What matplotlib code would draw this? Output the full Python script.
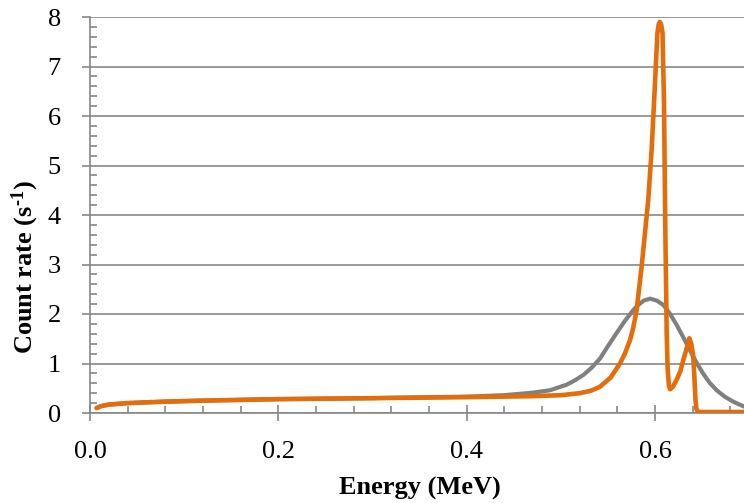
import matplotlib
matplotlib.use("Agg")
import matplotlib.pyplot as plt
from matplotlib.ticker import MultipleLocator

plt.rcParams["mathtext.fontset"] = "custom"
plt.rcParams["mathtext.rm"] = "Liberation Serif:bold"
plt.rcParams["mathtext.bf"] = "Liberation Serif:bold"
plt.rcParams["mathtext.it"] = "Liberation Serif:bold"

# Gray series (broad peak)
gray_energy = [0.007, 0.012, 0.02, 0.04, 0.08, 0.12, 0.2, 0.3, 0.4, 0.44, 0.47, 0.4885, 0.506,
               0.515, 0.524, 0.533, 0.5416, 0.55, 0.559, 0.568, 0.577, 0.582, 0.588, 0.5947,
               0.602, 0.609, 0.616, 0.623, 0.630, 0.637, 0.644, 0.651, 0.658, 0.6655, 0.674,
               0.683, 0.6945]
gray_rate = [0.10, 0.14, 0.17, 0.20, 0.23, 0.25, 0.28, 0.30, 0.33, 0.36, 0.41, 0.46, 0.57,
             0.66, 0.77, 0.92, 1.10, 1.35, 1.61, 1.86, 2.08, 2.18, 2.27, 2.31,
             2.27, 2.18, 2.00, 1.78, 1.53, 1.27, 1.02, 0.80, 0.61, 0.46, 0.33,
             0.23, 0.13]

# Orange series (sharp peak)
orange_energy = [0.007, 0.012, 0.02, 0.04, 0.08, 0.12, 0.2, 0.3, 0.4, 0.435, 0.47, 0.50, 0.52,
                 0.532, 0.5416, 0.553, 0.5628, 0.568, 0.5734, 0.577, 0.5805, 0.5858, 0.5893,
                 0.5928, 0.5964, 0.6, 0.6025, 0.604, 0.6051, 0.6065, 0.608, 0.6095, 0.611,
                 0.6124, 0.6134, 0.6148, 0.616, 0.619, 0.623, 0.627, 0.630, 0.634, 0.6364,
                 0.6385, 0.6406, 0.642, 0.643, 0.644, 0.6455, 0.66, 0.6945]
orange_rate = [0.10, 0.14, 0.17, 0.20, 0.23, 0.25, 0.28, 0.30, 0.32, 0.33, 0.34, 0.36, 0.40,
               0.45, 0.53, 0.72, 1.00, 1.20, 1.47, 1.73, 2.08, 2.96, 3.63,
               4.30, 5.31, 6.66, 7.67, 7.86, 7.90, 7.85, 7.67, 6.32, 3.63,
               1.61, 0.90, 0.55, 0.48, 0.53, 0.67, 0.85, 1.07, 1.33, 1.51,
               1.40, 1.15, 0.65, 0.26, 0.08, 0.02, 0.02, 0.02]

x_ticks = [0.0, 0.2, 0.4, 0.6]
x_tick_labels = ["0.0", "0.2", "0.4", "0.6"]
y_ticks = [0, 1, 2, 3, 4, 5, 6, 7, 8]

grid_col = "#878787"
fig = plt.figure(figsize=(7.44, 5.03), dpi=100)
ax = fig.add_axes([90/744, 90/503, (744-90)/744, 396/503])

ax.plot(gray_energy, gray_rate, color="#808080", lw=3.0, solid_capstyle="round",
        solid_joinstyle="round", zorder=3)
ax.plot(orange_energy, orange_rate, color="#E46C0A", lw=3.3, solid_capstyle="round",
        solid_joinstyle="round", zorder=4)

ax.set_xlim(0, 0.6945)
ax.set_ylim(0, 8)
ax.set_xticks(x_ticks)
ax.set_xticklabels(x_tick_labels)
ax.set_yticks(y_ticks)
ax.xaxis.set_minor_locator(MultipleLocator(0.04))
ax.yaxis.set_minor_locator(MultipleLocator(0.2))

for s in ["top", "right"]:
    ax.spines[s].set_visible(False)
for s in ["left", "bottom"]:
    ax.spines[s].set_color(grid_col)
    ax.spines[s].set_linewidth(1.2)

ax.grid(axis="y", which="major", color=grid_col, lw=1.2, zorder=1)
ax.set_axisbelow(True)

font = "Liberation Serif"
ax.tick_params(axis="x", which="major", direction="inout", length=11, width=1.2, color=grid_col,
               pad=15, labelsize=19)
ax.tick_params(axis="x", which="minor", direction="in", length=5, width=1.2, color=grid_col)
ax.tick_params(axis="y", which="major", direction="out", length=6, width=1.2, color=grid_col,
               pad=15, labelsize=19)
ax.tick_params(axis="y", which="minor", direction="in", length=5, width=1.2, color=grid_col)
for lab in ax.get_xticklabels() + ax.get_yticklabels():
    lab.set_fontfamily(font)

ax.set_xlabel("Energy (MeV)", fontsize=19, fontweight="bold", family=font)
ax.xaxis.set_label_coords((419.5 - 90) / 654, -(488 - 413) / 396)
ax.xaxis.label.set_va("center")
ax.set_ylabel(r"Count rate (s$^{\text{-1}}$)", fontsize=19, fontweight="bold", family=font)
ax.yaxis.set_label_coords(-(90 - 25) / 654, (413 - 267) / 396)
ax.yaxis.label.set_va("center")

fig.savefig("out.png", dpi=100)
